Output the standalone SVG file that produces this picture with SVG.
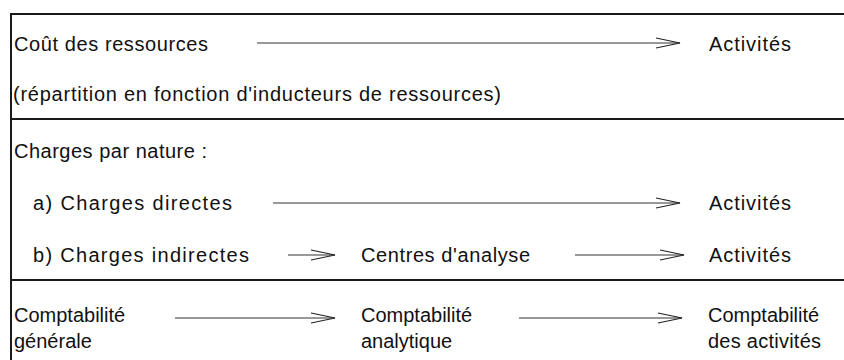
<svg xmlns="http://www.w3.org/2000/svg" width="844" height="360" viewBox="0 0 844 360">
<defs>
<style>
.t{font-family:"Liberation Sans",Arial,sans-serif;font-size:20px;fill:#111}
.b{stroke:#1a1a1a;stroke-width:2;fill:none}
.c{stroke:#333;stroke-width:1.2;fill:none}
</style>
<marker id="ah" markerUnits="userSpaceOnUse" markerWidth="30" markerHeight="16" viewBox="-26 -8 30 16" refX="0" refY="0" orient="auto">
<path d="M-24,-5 L0,0 L-24,5" fill="none" stroke="#222" stroke-width="1.2"/>
</marker>
</defs>
<rect width="844" height="360" fill="#fff"/>
<g id="frame">
<line class="b" x1="10" y1="14" x2="844" y2="14"/>
<line class="b" x1="11" y1="13" x2="11" y2="360"/>
<line class="b" x1="10" y1="119" x2="844" y2="119"/>
<line class="b" x1="10" y1="280" x2="844" y2="280"/>
</g>
<g id="connectors">
<line class="c" x1="257" y1="43" x2="680" y2="43" marker-end="url(#ah)"/>
<line class="c" x1="273" y1="203" x2="680" y2="203" marker-end="url(#ah)"/>
<line class="c" x1="288" y1="255" x2="335" y2="255" marker-end="url(#ah)"/>
<line class="c" x1="575" y1="255" x2="684" y2="255" marker-end="url(#ah)"/>
<line class="c" x1="175" y1="318" x2="335" y2="318" marker-end="url(#ah)"/>
<line class="c" x1="519" y1="318" x2="682" y2="318" marker-end="url(#ah)"/>
</g>
<g id="cout-ressources"><text class="t" x="14" y="51" textLength="194">Coût des ressources</text></g>
<g id="activites-1"><text class="t" x="709" y="51" textLength="82">Activités</text></g>
<g id="repartition"><text class="t" x="13" y="101" textLength="488">(répartition en fonction d'inducteurs de ressources)</text></g>
<g id="charges-nature"><text class="t" x="14" y="158" textLength="193">Charges par nature :</text></g>
<g id="charges-directes"><text class="t" x="33" y="210" textLength="199">a) Charges directes</text></g>
<g id="activites-2"><text class="t" x="709" y="210" textLength="82">Activités</text></g>
<g id="charges-indirectes"><text class="t" x="33" y="262" textLength="216">b) Charges indirectes</text></g>
<g id="centres-analyse"><text class="t" x="361" y="262" textLength="169">Centres d'analyse</text></g>
<g id="activites-3"><text class="t" x="709" y="262" textLength="82">Activités</text></g>
<g id="compta-generale"><text class="t" x="14" y="322">Comptabilité</text><text class="t" x="14" y="348">générale</text></g>
<g id="compta-analytique"><text class="t" x="361" y="322">Comptabilité</text><text class="t" x="361" y="348">analytique</text></g>
<g id="compta-activites"><text class="t" x="708" y="322">Comptabilité</text><text class="t" x="708" y="348" textLength="113">des activités</text></g>
</svg>
